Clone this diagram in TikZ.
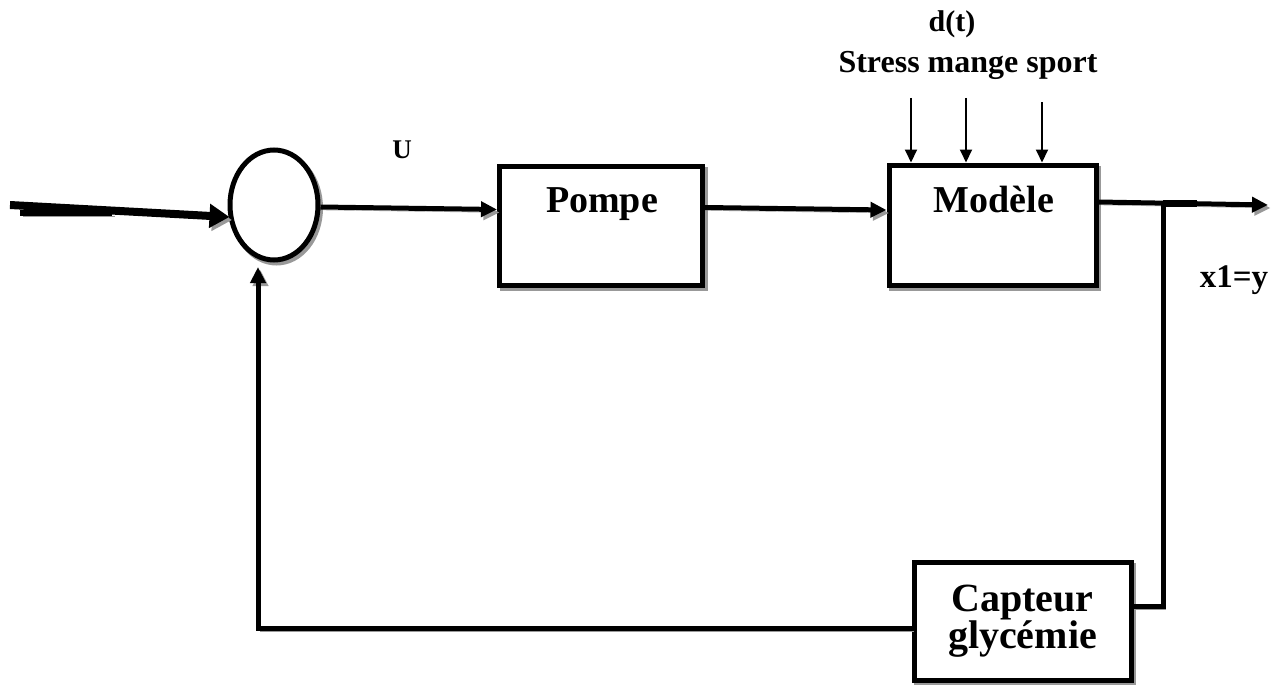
\documentclass[tikz,border=0pt]{standalone}
\usepackage{fontspec}
\setmainfont{Liberation Serif}
\usetikzlibrary{arrows.meta,shapes.geometric}
\begin{document}
\begin{tikzpicture}[x=1pt,y=-1pt,
  sh/.style={preaction={draw=black!40,transform canvas={xshift=2.5pt,yshift=-3pt}}},
  blk/.style={draw,line width=5pt,fill=white,minimum width=#1,inner sep=0pt,sh},
  wire/.style={line width=5pt,sh},
  tip/.style={-{Triangle[length=16pt,width=15pt]}},
  lbl/.style={font=\bfseries\fontsize{#1}{#1}\selectfont,inner sep=0pt,anchor=base}
]
\useasboundingbox (0,0) rectangle (1275,685);
% blocks
\node[draw,line width=5pt,ellipse,minimum width=88pt,minimum height=110pt,inner sep=0pt,fill=white,sh] (sum) at (274,205) {};
\node[blk=203pt,minimum height=119pt] (pompe) at (601,225.5) {};
\node[lbl=38] (tp) at (602,212) {Pompe};
\node[blk=207pt,minimum height=120pt] (modele) at (992.5,225) {};
\node[lbl=38] (tm) at (994,212) {Modèle};
\node[blk=217pt,minimum height=118pt,align=center,font=\bfseries\fontsize{40}{33}\selectfont] (capteur) at (1022.5,621) {Capteur\\glycémie};
% labels
\node[lbl=27] (u) at (402,158) {U};
\node[lbl=30] (dt) at (952,32) {d(t)};
\node[lbl=32] (stress) at (968,73) {Stress mange sport};
\node[lbl=33] (xy) at (1234,287) {x1=y};
% coordinates
\coordinate (in) at (10,205);
\coordinate (ins) at (20,213);
\coordinate (inb) at (112,213);
\coordinate (out) at (1268,205);
\coordinate (br) at (1163,203);
\coordinate (brs) at (1197,203);
\coordinate (fb) at (258,267);
\coordinate (d1) at (911,98);
\coordinate (d2) at (966,98);
\coordinate (d3) at (1042,102);
% input arrow
\draw[line width=6pt,sh] (ins) -- (inb);
\draw[line width=8pt,sh,-{Triangle[length=20pt,width=23pt]}] (in) -- ([shift={(2pt,-12pt)}]sum.west);
% forward path
\draw[wire,tip] ([yshift=-2pt]sum.east) -- ([yshift=16pt]pompe.west);
\draw[wire,tip] ([yshift=18pt]pompe.east) -- ([yshift=15pt]modele.west);
\draw[wire,tip] ([yshift=23pt]modele.east) -- (out);
\draw[line width=7pt] (br) -- (brs);
% disturbances
\foreach \d in {d1,d2,d3}
  \draw[line width=2pt,-{Triangle[length=13pt,width=12pt]}] (\d) -- (\d |- modele.north);
% feedback
\draw[wire] (br) |- ([yshift=15pt]capteur.east);
\draw[wire,tip] ([yshift=-7pt]capteur.west) -| (fb);
\end{tikzpicture}
\end{document}
